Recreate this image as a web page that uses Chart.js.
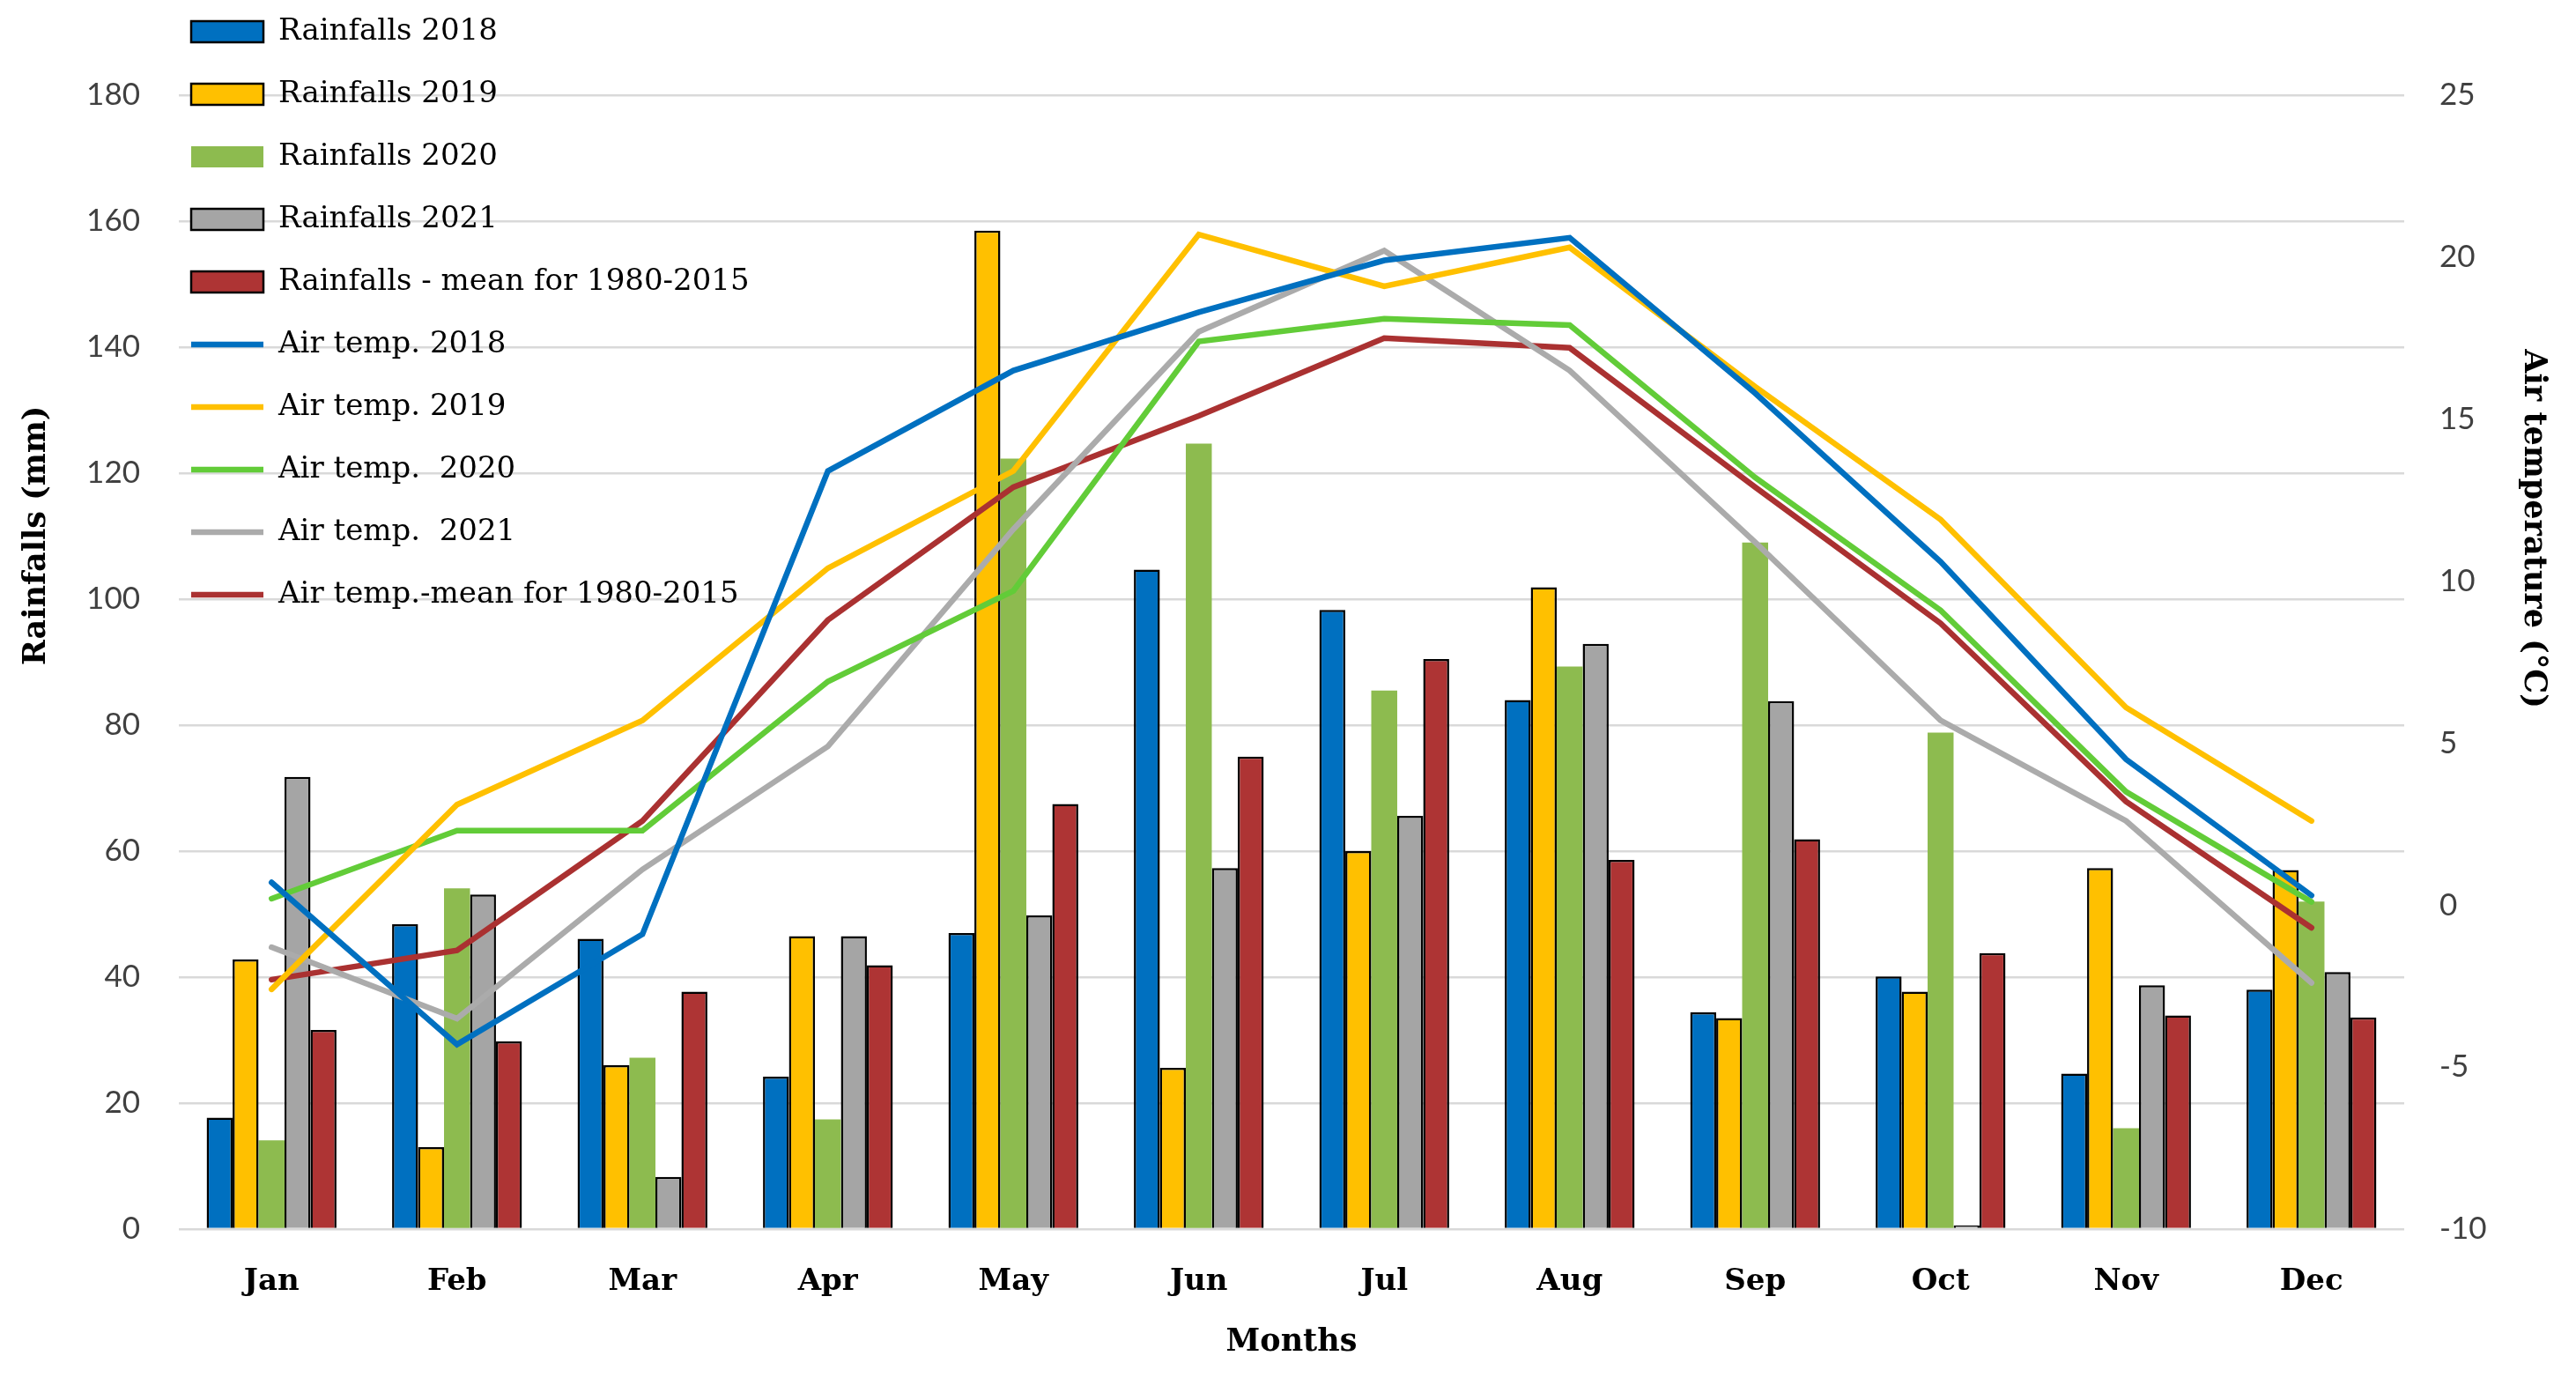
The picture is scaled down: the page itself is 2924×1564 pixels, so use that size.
<!DOCTYPE html>
<html>
<head>
<meta charset="utf-8">
<script src="https://cdn.jsdelivr.net/npm/chart.js@4/dist/chart.umd.min.js"></script>
<style>
  html, body { margin: 0; padding: 0; background: #fff; }
  #wrap { width: 2924px; height: 1564px; }
</style>
</head>
<body>
<div id="wrap"><canvas id="myChart"></canvas></div>
<script>
const months = ["Jan", "Feb", "Mar", "Apr", "May", "Jun", "Jul", "Aug", "Sep", "Oct", "Nov", "Dec"];

// rainfalls (mm)
const rain2018 = [17.7, 48.4, 46.1, 24.2, 47.0, 104.7, 98.3, 84.0, 34.4, 40.1, 24.7, 38.0];
const rain2019 = [42.8, 13.0, 26.0, 46.5, 158.5, 25.6, 60.0, 101.9, 33.5, 37.7, 57.3, 57.0];
const rain2020 = [14.1, 54.1, 27.2, 17.4, 122.3, 124.7, 85.5, 89.3, 109.0, 78.8, 16.0, 52.0];
const rain2021 = [71.8, 53.1, 8.3, 46.5, 49.8, 57.3, 65.6, 92.9, 83.8, 0.6, 38.7, 40.8];
const rainMean = [31.6, 29.8, 37.7, 41.9, 67.5, 75.0, 90.5, 58.6, 61.9, 43.8, 33.9, 33.6];

// air temperature (°C)
const temp2018 = [0.7, -4.3, -0.9, 13.4, 16.5, 18.3, 19.9, 20.6, 15.8, 10.6, 4.5, 0.3];
const temp2019 = [-2.6, 3.1, 5.7, 10.4, 13.4, 20.7, 19.1, 20.3, 16.0, 11.9, 6.1, 2.6];
const temp2020 = [0.2, 2.3, 2.3, 6.9, 9.7, 17.4, 18.1, 17.9, 13.2, 9.1, 3.5, 0.1];
const temp2021 = [-1.3, -3.5, 1.1, 4.9, 11.6, 17.7, 20.2, 16.5, 11.2, 5.7, 2.6, -2.4];
const tempMean = [-2.3, -1.4, 2.6, 8.8, 12.9, 15.1, 17.5, 17.2, 12.9, 8.7, 3.2, -0.7];

const serif = "'DejaVu Serif', serif";
const sans = "Lato, 'Open Sans', sans-serif";

const barSet = (label, data, color, border) => ({
  type: "bar",
  label: label,
  data: data,
  backgroundColor: color,
  borderColor: "#000000",
  borderWidth: border,
  borderSkipped: "bottom",
  pointStyle: "rect",
  yAxisID: "y",
  order: 2,
});

const lineSet = (label, data, color) => ({
  type: "line",
  label: label,
  data: data,
  borderColor: color,
  backgroundColor: color,
  borderWidth: 6.5,
  pointRadius: 0,
  pointStyle: "line",
  tension: 0,
  borderCapStyle: "round",
  yAxisID: "y1",
  order: 1,
});

// move the legend to the top-left corner, above the plot
const legendSpot = {
  id: "legendSpot",
  afterLayout(chart) {
    const lg = chart.legend;
    if (!lg) return;
    const w = lg.width, h = lg.height;
    lg.left = 180;
    lg.top = -18;
    lg.right = lg.left + w;
    lg.bottom = lg.top + h;
  },
};

// side titles, set a bit above the middle like in the original figure
const sideTitles = {
  id: "sideTitles",
  afterDraw(chart) {
    const ctx = chart.ctx;
    ctx.save();
    ctx.font = "bold 35px " + serif;
    ctx.fillStyle = "#000";
    ctx.textAlign = "center";
    ctx.textBaseline = "middle";
    ctx.translate(42, 608);
    ctx.rotate(-Math.PI / 2);
    ctx.fillText("Rainfalls (mm)", 0, 0);
    ctx.restore();
    ctx.save();
    ctx.font = "bold 35px " + serif;
    ctx.fillStyle = "#000";
    ctx.textAlign = "center";
    ctx.textBaseline = "middle";
    ctx.translate(2875, 600);
    ctx.rotate(Math.PI / 2);
    ctx.fillText("Air temperature (\u00B0C)", 0, 0);
    ctx.restore();
  },
};

const ctx = document.getElementById("myChart").getContext("2d");

const myChart = new Chart(ctx, {
  data: {
    labels: months,
    datasets: [
      barSet("Rainfalls 2018", rain2018, "#0070C0", 2.5),
      barSet("Rainfalls 2019", rain2019, "#FFC000", 2.5),
      barSet("Rainfalls 2020", rain2020, "#8DBB4F", 0),
      barSet("Rainfalls 2021", rain2021, "#A5A5A5", 2.5),
      barSet("Rainfalls - mean for 1980-2015", rainMean, "#AE3434", 2.5),
      lineSet("Air temp. 2018", temp2018, "#0070C0"),
      lineSet("Air temp. 2019", temp2019, "#FFC000"),
      lineSet("Air temp.  2020", temp2020, "#62CC38"),
      lineSet("Air temp.  2021", temp2021, "#ABABAB"),
      lineSet("Air temp.-mean for 1980-2015", tempMean, "#AA3131"),
    ],
  },
  options: {
    responsive: true,
    maintainAspectRatio: false,
    animation: false,
    devicePixelRatio: 1,
    layout: { padding: { top: 108, left: 0, right: 0, bottom: 0 } },
    datasets: {
      bar: { categoryPercentage: 0.7, barPercentage: 1.0 },
    },
    plugins: {
      tooltip: { enabled: false },
      legend: {
        position: "chartArea",
        align: "start",
        labels: {
          sort: (a, b) => a.datasetIndex - b.datasetIndex,
          usePointStyle: true,
          pointStyleWidth: 82,
          boxHeight: 24,
          padding: 37,
          color: "#000",
          font: { family: serif, size: 34 },
        },
      },
    },
    scales: {
      x: {
        grid: { display: false, drawTicks: false },
        border: { display: false },
        ticks: {
          padding: 40,
          color: "#000",
          font: { family: serif, size: 34, weight: "bold" },
        },
        title: {
          display: true,
          text: "Months",
          color: "#000",
          padding: { top: 0, bottom: 19 },
          font: { family: serif, size: 35, weight: "bold" },
        },
        afterFit: (scale) => { scale.height = 169; },
      },
      y: {
        position: "left",
        min: 0,
        max: 180,
        grid: { color: "#D9D9D9", lineWidth: 2.5, drawTicks: false },
        border: { display: false },
        ticks: {
          stepSize: 20,
          padding: 44,
          color: "#404040",
          font: { family: sans, size: 35 },
        },
        afterFit: (scale) => { scale.width = 203; },
      },
      y1: {
        position: "right",
        min: -10,
        max: 25,
        grid: { display: false, drawTicks: false },
        border: { display: false },
        ticks: {
          stepSize: 5,
          padding: 40,
          color: "#404040",
          font: { family: sans, size: 35 },
        },
        afterFit: (scale) => { scale.width = 195; },
      },
    },
  },
  plugins: [legendSpot, sideTitles],
});
</script>
</body>
</html>
